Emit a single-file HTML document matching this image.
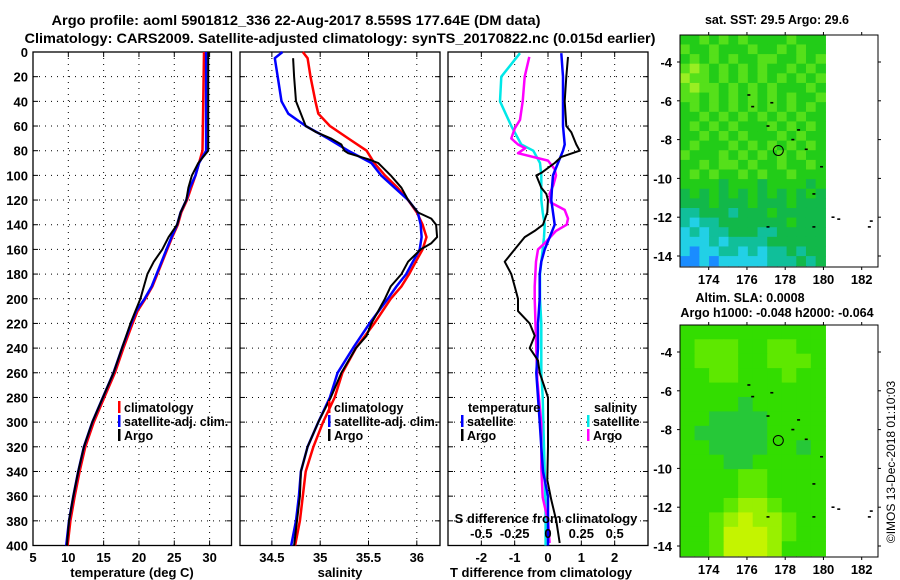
<!DOCTYPE html>
<html><head><meta charset="utf-8"><style>
html,body{margin:0;padding:0;background:#fff;width:900px;height:580px;overflow:hidden}
svg{display:block;font-family:"Liberation Sans",sans-serif;font-weight:bold}
</style></head><body>
<svg id="s" width="900" height="580" viewBox="0 0 900 580">
<text x="296" y="25" text-anchor="middle" font-size="14" textLength="489" lengthAdjust="spacingAndGlyphs">Argo profile: aoml 5901812_336 22-Aug-2017 8.559S 177.64E (DM data)</text>
<text x="340" y="43" text-anchor="middle" font-size="14" textLength="631" lengthAdjust="spacingAndGlyphs">Climatology: CARS2009. Satellite-adjusted climatology: synTS_20170822.nc (0.015d earlier)</text>
<g id="g"></g>
</svg>
<script>
// ---- data ----
const depthT = [0,80,90,100,110,120,130,140,150,160,170,180,190,200,210,220,240,260,280,300,320,340,360,380,400];
const tempClim = [29.2,29.0,28.5,28.0,27.4,26.8,26.0,25.5,24.7,24.0,23.3,22.6,21.9,20.9,19.8,19.1,17.8,16.6,15.1,13.6,12.4,11.6,10.9,10.3,9.9];
const tempSat  = [29.5,29.5,28.5,28.0,27.2,26.7,25.9,25.4,24.6,23.9,23.2,22.5,21.8,20.8,19.6,18.9,17.6,16.4,14.9,13.4,12.2,11.4,10.7,10.1,9.7];
const tempArgo = [29.8,29.8,28.4,27.5,27.0,26.7,25.9,25.4,24.2,23.3,22.1,21.2,20.7,20.2,19.5,18.8,17.6,16.4,14.9,13.4,12.2,11.4,10.7,10.1,9.8];
const depthS = [0,5,20,40,50,60,70,80,90,100,110,120,130,140,150,160,170,180,190,200,220,240,260,280,300,320,340,360,380,400];
const salClim = [34.82,34.87,34.9,34.95,34.98,35.1,35.29,35.48,35.56,35.67,35.8,35.91,36.0,36.06,36.1,36.06,35.99,35.92,35.84,35.73,35.56,35.37,35.23,35.15,35.03,34.93,34.85,34.82,34.79,34.74];
const salSat = [34.61,34.53,34.56,34.6,34.67,34.85,35.08,35.29,35.53,35.63,35.77,35.91,36.01,36.04,36.05,36.03,35.96,35.89,35.79,35.7,35.51,35.34,35.18,35.1,34.98,34.87,34.8,34.78,34.75,34.7];
const depthSA = [5,20,40,50,60,65,70,75,80,82,87,90,100,110,120,130,135,140,150,155,160,170,180,190,200,210,220,230,240,260,280,300,320,340,360,380,400];
const salArgo = [34.72,34.73,34.75,34.8,34.85,34.96,35.11,35.22,35.25,35.29,35.5,35.6,35.73,35.84,35.91,36.01,36.15,36.2,36.21,36.15,36.04,35.91,35.84,35.73,35.67,35.6,35.53,35.48,35.37,35.22,35.11,34.98,34.87,34.8,34.79,34.76,34.73];
const depthD = [1,20,40,60,75,80,90,100,110,120,130,140,150,160,170,180,190,200,220,240,260,280,300,320,340,360,380,400];
const tdiffSat = [0.4,0.45,0.45,0.45,0.5,0.45,0.3,0.15,0.12,0.1,0.15,0.2,0.05,-0.1,-0.2,-0.25,-0.25,-0.25,-0.3,-0.3,-0.35,-0.3,-0.25,-0.2,-0.15,0,0,0];
const depthTA = [4,20,40,60,65,75,80,85,90,98,100,110,115,120,130,140,145,150,160,170,175,180,190,200,210,220,230,240,250,260,280,300,320,347,363,380,398];
const tdiffArgo = [0.6,0.55,0.5,0.55,0.7,0.85,0.95,0.4,0.2,-0.2,-0.35,-0.2,-0.05,0,-0.02,-0.15,-0.4,-0.7,-1.0,-1.3,-1.2,-1.1,-1.0,-0.9,-0.9,-0.55,-0.4,-0.55,-0.3,-0.25,0,0,0,-0.02,0.1,0.25,0.35];
const sdiffSat = [-0.21,-0.35,-0.36,-0.275,-0.2,-0.11,-0.06,-0.05,-0.05,-0.05,-0.04,-0.025,-0.03,-0.04,-0.05,-0.06,-0.06,-0.06,-0.05,-0.05,-0.05,-0.04,-0.035,-0.03,-0.025,-0.02,-0.018,-0.018];
const depthSD = [4,20,40,55,62,70,75,78,82,88,95,100,108,115,122,128,135,140,145,155,160,170,190,200,266,301,337,361,380,398];
const sdiffArgo = [-0.14,-0.175,-0.19,-0.21,-0.25,-0.275,-0.225,-0.17,-0.225,0,0.05,0.06,0.04,0.012,0.02,0.125,0.15,0.14,0.06,-0.025,-0.075,-0.09,-0.1,-0.1,-0.08,-0.05,-0.05,-0.04,0,0.012];
const tTicks=[5,10,15,20,25,30], sTicks=[34.5,35,35.5,36], dTicks=[-2,-1,0,1,2], sdTicks=[-0.5,-0.25,0,0.25,0.5], sdLabels=['-0.5','-0.25','0','0.25','0.5'];
const depthTicks=[0,20,40,60,80,100,120,140,160,180,200,220,240,260,280,300,320,340,360,380,400];
const lonTicks=[174,176,178,180,182], latTicks=[-4,-6,-8,-10,-12,-14];
const sstGrid=["445454544445444","544544454454544","454545445544545","565454545445454","655454545454545","565545454544454","554545454545445","454545454545454","445454545454544","454545444545454","445454544454544","454445454545454","544454545454544","445455454454454","454544545445444","444434443444434","343434343434343","333433343334333","223332333433333","212233333334333","121223332233333","111212222333333","101122121223233","001011111222323"];
const slaGrid=["4444444444","4555445544","4555445554","4455444544","4444444444","4444344444","4433334444","4333334444","4433334434","4443344444","4444554444","4444554444","4445665444","4456766544","4457776544","4457776444"];
const sstColors=['#1a8cff','#22d0e6','#10bf9a','#12b84a','#22cc18','#55e01a','#99ee22'];
const slaColors=['','','','#26c838','#33dd00','#5ee800','#99f000','#c4f400'];
const argoLon=177.64, argoLat=-8.56;
const coast=[[176.1,-5.7],[176.3,-6.3],[177.3,-6.1],[177.1,-7.3],[178.7,-7.5],[178.4,-8.0],[179.1,-8.5],[179.9,-9.4],[179.5,-10.8],[177.1,-12.5],[179.5,-12.5],[180.5,-12.0],[180.8,-12.1],[182.5,-12.2],[182.4,-12.5]];

// ---- helpers ----
const NS='http://www.w3.org/2000/svg', G=document.getElementById('g');
function mk(tag,at,parent){const e=document.createElementNS(NS,tag);for(const k in at)e.setAttribute(k,at[k]);(parent||G).appendChild(e);return e;}
const top0=52, bot0=545.5;
const yD=d=>top0+(d/400)*(bot0-top0);
const panels=[{x0:33,x1:231.5,min:5,max:33.1},{x0:240,x1:440,min:34.17,max:36.24},{x0:448,x1:648,min:-3,max:3}];
function xf(p,v){return p.x0+(v-p.min)/(p.max-p.min)*(p.x1-p.x0);}
function frame(p,name){
  mk('rect',{x:p.x0,y:top0,width:p.x1-p.x0,height:bot0-top0,fill:'none',stroke:'#000','stroke-width':1.3});
  depthTicks.forEach(d=>{if(d>0&&d<400){const l=mk('line',{x1:p.x0,x2:p.x1,y1:yD(d),y2:yD(d),stroke:'#000','stroke-dasharray':'1,5','stroke-width':1});
    mk('line',{x1:p.x0,x2:p.x0+5,y1:yD(d),y2:yD(d),stroke:'#000'});mk('line',{x1:p.x1,x2:p.x1-5,y1:yD(d),y2:yD(d),stroke:'#000'});}});
}
function vgrid(p,vals){vals.forEach(v=>{const x=xf(p,v);if(x>p.x0+1&&x<p.x1-1){const l=mk('line',{x1:x,x2:x,y1:top0,y2:bot0,stroke:'#000','stroke-dasharray':'1,5'});
  mk('line',{x1:x,x2:x,y1:bot0,y2:bot0-5,stroke:'#000'});mk('line',{x1:x,x2:x,y1:top0,y2:top0+5,stroke:'#000'});}});}
function xlabels(p,vals,labels,y,name){vals.forEach((v,i)=>{const t=mk('text',{x:xf(p,v),y:y,'text-anchor':'middle','font-size':13});t.textContent=labels?labels[i]:String(v);});}
function line(p,xs,ds,color,w,name,scale){const pts=xs.map((v,i)=>xf(p,v*(scale||1)).toFixed(1)+','+yD(ds[i]).toFixed(1)).join(' ');
  const e=mk('polyline',{points:pts,fill:'none',stroke:color,'stroke-width':w,'stroke-linejoin':'round'});}
function label(x,y,txt,size,anchor,name){const t=mk('text',{x:x,y:y,'font-size':size,'text-anchor':anchor||'start'});t.textContent=txt;return t;}
function legend(x,y,color,txt,name){mk('rect',{x:x,y:y-6,width:2.5,height:12,fill:color});label(x+6,y+5,txt,12.5,'start',name);}

const P1=panels[0],P2=panels[1],P3=panels[2];
frame(P1,'temperature-panel');vgrid(P1,tTicks);
depthTicks.forEach(d=>label(28,yD(d)+5,String(d),13,'end','y-tick-label'));
line(P1,tempClim,depthT,'#ff0000',2.5,'temp-climatology-line');
line(P1,tempSat,depthT,'#0000ff',2.5,'temp-satellite-line');
line(P1,tempArgo,depthT,'#000000',2,'temp-argo-line');
xlabels(P1,tTicks,null,562,'temp-x-tick');
label(132,577,'temperature (deg C)',13,'middle','temp-x-axis-title');
legend(118,407,'#ff0000','climatology','legend-climatology');legend(118,421,'#0000ff','satellite-adj. clim.','legend-satellite');legend(118,435,'#000','Argo','legend-argo');
frame(P2,'salinity-panel');vgrid(P2,sTicks);
line(P2,salClim,depthS,'#ff0000',2.5,'sal-climatology-line');
line(P2,salSat,depthS,'#0000ff',2.5,'sal-satellite-line');
line(P2,salArgo,depthSA,'#000000',2,'sal-argo-line');
xlabels(P2,sTicks,null,562,'sal-x-tick');
label(340,577,'salinity',13,'middle','sal-x-axis-title');
legend(328,407,'#ff0000','climatology','legend-climatology');legend(328,421,'#0000ff','satellite-adj. clim.','legend-satellite');legend(328,435,'#000','Argo','legend-argo');
frame(P3,'difference-panel');vgrid(P3,dTicks);
line(P3,sdiffSat,depthD,'#00e8e8',2.5,'sal-diff-satellite-line',4);
line(P3,sdiffArgo,depthSD,'#ff00ff',2.5,'sal-diff-argo-line',4);
line(P3,tdiffSat,depthD,'#0000ff',2.5,'temp-diff-satellite-line');
line(P3,tdiffArgo,depthTA,'#000000',2,'temp-diff-argo-line');
xlabels(P3,dTicks,null,562,'tdiff-x-tick');
label(541,577,'T difference from climatology',13,'middle','tdiff-x-axis-title');
sdTicks.forEach((v,i)=>{label(xf(P3,v*4),538,sdLabels[i],13,'middle','sdiff-tick');});
label(546,523,'S difference from climatology',13,'middle','sdiff-axis-title');
label(468,412,'temperature',12.5,'start','legend-temperature-header');
legend(461,421,'#0000ff','satellite','legend-temp-satellite');legend(461,435,'#000','Argo','legend-temp-argo');
label(594,412,'salinity',12.5,'start','legend-salinity-header');
legend(587,421,'#00e8e8','satellite','legend-sal-satellite');legend(587,435,'#ff00ff','Argo','legend-sal-argo');

const mx=lon=>708.7+(lon-174)*19.125;
function drawMap(oy,grid,colors,name){
  const my=lat=>oy+62+(-4-lat)*19.4;
  const lon0=172.5,lon1=180.1,lat0=-2.6,lat1=-14.5;
  const rows=grid.length,cols=grid[0].length;
  const cw=(mx(lon1)-mx(lon0))/cols,ch=(my(lat1)-my(lat0))/rows;
  grid.forEach((r,i)=>{for(let j=0;j<cols;j++){const c=mk('rect',{x:(mx(lon0)+j*cw).toFixed(2),y:(my(lat0)+i*ch).toFixed(2),width:(cw+0.6).toFixed(2),height:(ch+0.6).toFixed(2),fill:colors[+r[j]]});
    
    }});
  coast.forEach(p=>{const c=mk('rect',{x:mx(p[0])-1.5,y:my(p[1])-0.8,width:3,height:1.6,fill:'#000'});});
  const ci=mk('circle',{cx:mx(argoLon),cy:my(argoLat),r:5,fill:'none',stroke:'#000','stroke-width':1});
  const fr=mk('rect',{x:680,y:oy+35,width:198,height:232,fill:'none',stroke:'#000','stroke-width':1});
  lonTicks.forEach(l=>{mk('line',{x1:mx(l),x2:mx(l),y1:oy+35,y2:oy+32,stroke:'#000'});mk('line',{x1:mx(l),x2:mx(l),y1:oy+267,y2:oy+270,stroke:'#000'});label(mx(l),oy+284,String(l),13,'middle',name+'-lon-label');});
  latTicks.forEach(l=>{mk('line',{x1:680,x2:677,y1:my(l),y2:my(l),stroke:'#000'});mk('line',{x1:878,x2:881,y1:my(l),y2:my(l),stroke:'#000'});label(672,my(l)+5,String(l),13,'end',name+'-lat-label');});
}
drawMap(0,sstGrid,sstColors,'sst-map');
drawMap(290,slaGrid,slaColors,'sla-map');
label(777,24,'sat. SST: 29.5 Argo: 29.6',12.5,'middle','sst-map-title');
label(750,302,'Altim. SLA: 0.0008',12.5,'middle','sla-map-title');
label(777,317,'Argo h1000: -0.048 h2000: -0.064',12.5,'middle','sla-map-subtitle');
const cp=label(0,0,'©IMOS 13-Dec-2018 01:10:03',12,'middle','copyright-text');
cp.setAttribute('font-weight','normal');
cp.setAttribute('transform','translate(895,462) rotate(-90)');
</script>
</body></html>
